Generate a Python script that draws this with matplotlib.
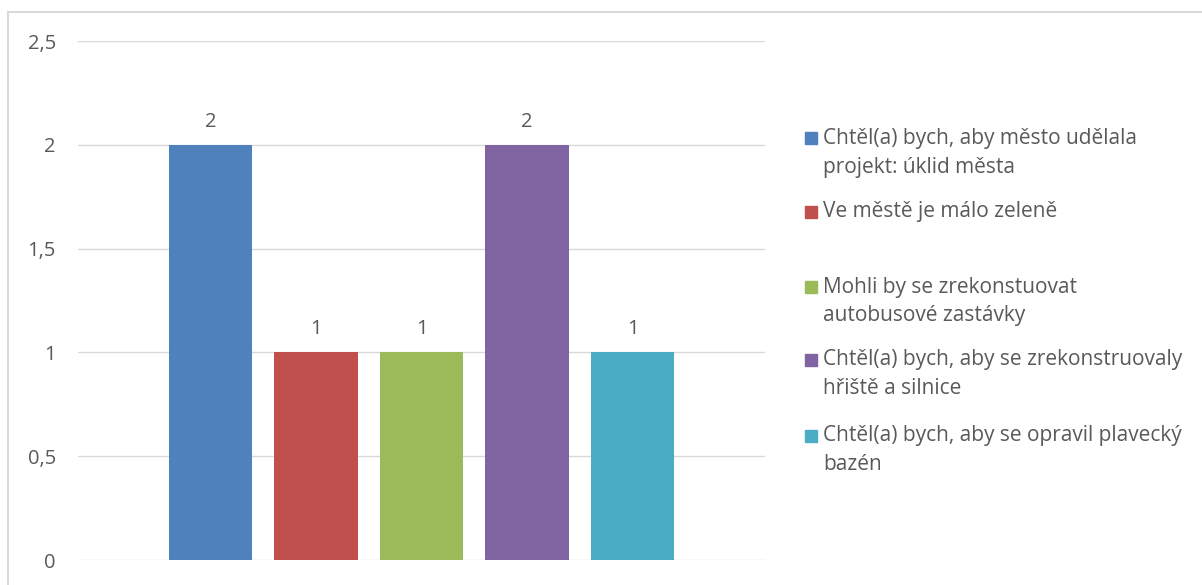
import matplotlib.pyplot as plt
from matplotlib.patches import Rectangle
from matplotlib.ticker import FuncFormatter

W, H = 1202, 585

labels = [
    "Chtěl(a) bych, aby město udělala\nprojekt: úklid města",
    "Ve městě je málo zeleně",
    "Mohli by se zrekonstuovat\nautobusové zastávky",
    "Chtěl(a) bych, aby se zrekonstruovaly\nhřiště a silnice",
    "Chtěl(a) bych, aby se opravil plavecký\nbazén",
]
values = [2, 1, 1, 2, 1]
colors = ["#4f81bd", "#c0504d", "#9bbb59", "#8064a2", "#4bacc6"]
yticks = [0, 0.5, 1, 1.5, 2, 2.5]

plt.rcParams["font.family"] = ["Open Sans", "DejaVu Sans"]
text_color = "#595959"
grid_color = "#d9d9d9"
fs = 14.5

fig = plt.figure(figsize=(W / 100, H / 100), dpi=100)
ax = fig.add_axes([78 / W, 1 - 560 / H, (765 - 78) / W, (560 - 41) / H])

positions = list(range(len(values)))
bars = ax.bar(positions, values, width=0.787, color=colors, zorder=3)
for b, v in zip(bars, values):
    ax.annotate(str(v), (b.get_x() + b.get_width() / 2, v), xytext=(0, 16.5),
                textcoords="offset points", ha="center", va="center",
                fontsize=fs, color=text_color)

ax.set_xlim(2 - 3.256, 2 + 3.256)
ax.set_ylim(0, 2.5)
ax.set_yticks(yticks)
ax.yaxis.set_major_formatter(FuncFormatter(lambda v, p: f"{v:g}".replace(".", ",")))
ax.tick_params(axis="y", length=0, pad=16, labelsize=fs, labelcolor=text_color)
ax.set_xticks([])
ax.grid(axis="y", color=grid_color, linewidth=1, zorder=0)
for s in ax.spines.values():
    s.set_visible(False)

# chart frame
fig.add_artist(Rectangle((8 / W, -0.1), 1.2, 1.1 - 12 / H, transform=fig.transFigure,
                         fill=False, edgecolor=grid_color, linewidth=1.5))

# legend, placed like the original
legend_y = [138, 212, 287, 360, 436]
line_gap = 29
for lab, col, y in zip(labels, colors, legend_y):
    fig.add_artist(Rectangle((805 / W, 1 - (y + 6) / H), 12 / W, 12 / H,
                             transform=fig.transFigure, color=col))
    for i, line in enumerate(lab.split("\n")):
        fig.text(823 / W, 1 - (y + i * line_gap) / H, line, ha="left", va="center",
                 fontsize=15, color=text_color)

fig.savefig("out.png", dpi=100)
